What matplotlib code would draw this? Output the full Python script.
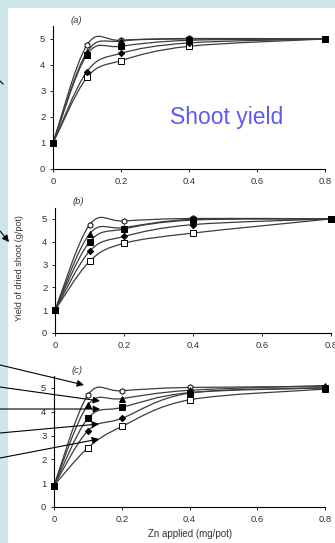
import matplotlib
matplotlib.use("Agg")
import matplotlib.pyplot as plt
import numpy as np
from matplotlib.path import Path
from matplotlib.patches import PathPatch, Rectangle, FancyArrowPatch

plt.rcParams.update({
    "font.family": ["Liberation Sans", "DejaVu Sans"],
    "font.size": 7,
})

# Zn applied (mg/pot)
zn = [0.0, 0.1, 0.2, 0.4, 0.8]
xticks = [0, 0.2, 0.4, 0.6, 0.8]
xtick_labels = ["0", "0.2", "0.4", "0.6", "0.8"]
yticks = [0, 1, 2, 3, 4, 5]

# shoot yield (g/pot), five treatments per panel
a_open = [1.0, 4.77, 4.95, 5.02, 5.0]
a_tri = [1.0, 4.50, 4.92, 5.00, 5.0]
a_sq = [1.0, 4.40, 4.72, 4.95, 5.0]
a_dia = [1.0, 3.75, 4.45, 4.85, 5.0]
a_osq = [1.0, 3.52, 4.17, 4.72, 5.0]

b_open = [1.0, 4.74, 4.91, 5.02, 5.0]
b_tri = [1.0, 4.34, 4.62, 4.98, 5.0]
b_sq = [1.0, 3.99, 4.56, 4.95, 5.0]
b_dia = [1.0, 3.58, 4.23, 4.75, 5.0]
b_osq = [1.0, 3.14, 3.93, 4.38, 5.0]

c_open = [0.9, 4.70, 4.88, 5.02, 5.05]
c_tri = [0.9, 4.28, 4.55, 4.90, 5.10]
c_sq = [0.9, 3.72, 4.18, 4.80, 5.00]
c_dia = [0.9, 3.20, 3.72, 4.78, 5.00]
c_osq = [0.9, 2.48, 3.38, 4.50, 4.95]

panels = [
    ("a", [a_osq, a_dia, a_open, a_tri, a_sq]),
    ("b", [b_osq, b_dia, b_open, b_tri, b_sq]),
    ("c", [c_osq, c_dia, c_open, c_tri, c_sq]),
]
# marker, face colour, size (drawn in this order, filled square on top)
styles = [("s", "white", 4.2), ("D", "black", 3.2), ("h", "white", 4.0),
          ("^", "black", 4.4), ("s", "black", 4.2)]


def smooth_path(xs, ys):
    """Excel-style smoothed line (Catmull-Rom as cubic Bezier)."""
    p = np.column_stack([xs, ys])
    n = len(p)
    verts = [p[0]]
    codes = [Path.MOVETO]
    for i in range(n - 1):
        p0 = p[i - 1] if i > 0 else p[i]
        p3 = p[i + 2] if i + 2 < n else p[i + 1]
        c1 = p[i] + (p[i + 1] - p0) / 6
        c2 = p[i + 1] - (p3 - p[i]) / 6
        verts += [c1, c2, p[i + 1]]
        codes += [Path.CURVE4] * 3
    return Path(verts, codes)


W, H = 335, 543
fig = plt.figure(figsize=(W / 100, H / 100), dpi=100, facecolor="#cde6ea")
fig.add_artist(Rectangle((8 / W, 0), 1, 1 - 8 / H, transform=fig.transFigure,
                         fc="white", ec="none", zorder=0))

# axes boxes in pixels: x0, x at 0.8, y at 0, y at 5.5
boxes = [(53, 325, 169, 26), (55, 331, 333, 207.5), (54, 325, 507, 376)]

for (tag, series), (x0, x1, y0, y1) in zip(panels, boxes):
    ax = fig.add_axes([x0 / W, 1 - y0 / H, (x1 - x0) / W, (y0 - y1) / H])
    ax.set_facecolor("none")
    for ys in series:
        ax.add_patch(PathPatch(smooth_path(zn, ys), fill=False, ec="#3c3c3c",
                               lw=0.9, zorder=2, clip_on=False))
    for ys, (m, fc, ms) in zip(series, styles):
        ax.plot(zn, ys, ls="none", marker=m, mfc=fc, mec="black", mew=0.7,
                ms=ms, zorder=3, clip_on=False)
    ax.set_xlim(0, 0.8)
    ax.set_ylim(0, 5.5)
    ax.set_xticks(xticks)
    ax.set_xticklabels(xtick_labels)
    ax.set_yticks(yticks)
    for s in ("top", "right"):
        ax.spines[s].set_visible(False)
    for s in ("left", "bottom"):
        ax.spines[s].set_linewidth(0.8)
    ax.tick_params(direction="out", length=2.5, width=0.6, labelsize=6.8,
                   labelcolor="#333333", pad=3)
    ax.text(0.065, 1.01, f"({tag})", transform=ax.transAxes, fontsize=6.8,
            ha="left", va="bottom", color="#333333", style="italic")
    if tag == "a":
        ax.text(0.64, 0.36, "Shoot yield", transform=ax.transAxes,
                fontsize=16.5, color="#5c5cf2", ha="center", va="center")

fig.text(20 / W, 1 - 268 / H, "Yield of dried shoot (g/pot)", rotation=90,
         ha="center", va="center", fontsize=6.5, color="#333333")
fig.text(190 / W, 1 - 534 / H, "Zn applied (mg/pot)", ha="center",
         va="center", fontsize=7, color="#333333")

# pointer arrows coming in from the left
arrows = [((0, 365), (84, 385)), ((0, 387), (100, 401)), ((0, 409), (100, 409)),
          ((0, 433), (99, 424)), ((0, 458), (99, 439)), ((0, 231), (9, 242))]
for (xa, ya), (xb, yb) in arrows:
    fig.add_artist(FancyArrowPatch((xa / W, 1 - ya / H), (xb / W, 1 - yb / H),
                                   transform=fig.transFigure, arrowstyle="-|>",
                                   mutation_scale=10, lw=0.8, color="black",
                                   shrinkA=0, shrinkB=0, zorder=5))
fig.add_artist(plt.Line2D([0, 3 / W], [1 - 81 / H, 1 - 84 / H],
                          transform=fig.transFigure, color="black", lw=0.8))

fig.savefig("out.png", dpi=100, facecolor=fig.get_facecolor())
